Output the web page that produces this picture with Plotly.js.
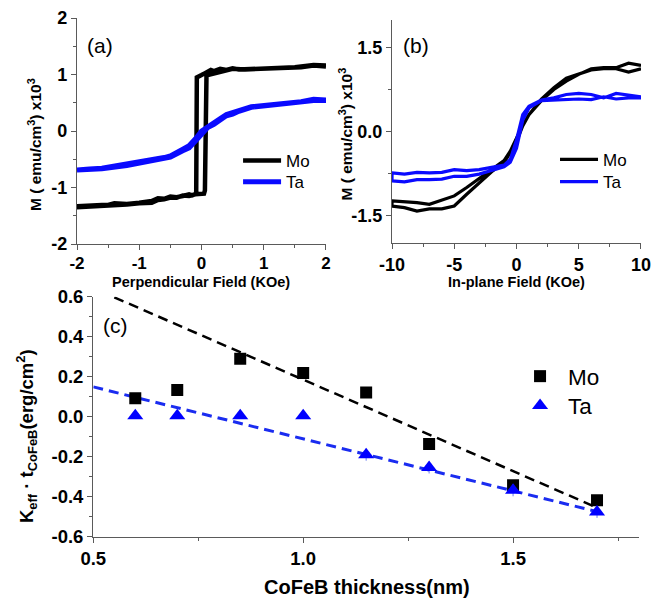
<!DOCTYPE html>
<html>
<head>
<meta charset="utf-8">
<script src="https://cdn.plot.ly/plotly-3.0.1.min.js"></script>
<style>html,body{margin:0;padding:0;background:#fff;}#chart{width:665px;height:601px;}</style>
</head>
<body>
<div id="chart"></div>
<script>
// ---------- Panel (a): perpendicular field loops ----------
const moPerpH = [2.0,1.8,1.6,1.4,1.2,1.0,0.8,0.6,0.5,0.4,0.3,0.2,0.15,0.1,0.05,0.0,-0.04,-0.075,-0.085,-0.1,-0.15,-0.2,-0.3,-0.4,-0.5,-0.6,-0.7,-0.8,-1.0,-1.2,-1.4,-1.5,-1.6,-1.8,-2.0,
  -2.0,-1.8,-1.6,-1.4,-1.2,-1.0,-0.8,-0.7,-0.6,-0.5,-0.4,-0.3,-0.2,-0.1,0.0,0.04,0.055,0.065,0.08,0.1,0.2,0.3,0.4,0.5,0.7,0.9,1.2,1.5,1.8,2.0];
const moPerpM = [1.14,1.16,1.13,1.12,1.12,1.11,1.10,1.09,1.11,1.08,1.10,1.06,1.08,1.04,1.02,0.99,0.97,0.95,-1.08,-1.12,-1.14,-1.12,-1.15,-1.17,-1.16,-1.20,-1.19,-1.24,-1.27,-1.29,-1.28,-1.31,-1.31,-1.32,-1.33,
  -1.35,-1.34,-1.32,-1.31,-1.30,-1.28,-1.27,-1.22,-1.21,-1.18,-1.18,-1.14,-1.15,-1.12,-1.10,-1.11,-1.05,0.92,0.97,0.99,1.02,1.06,1.08,1.10,1.09,1.10,1.12,1.13,1.17,1.16];
const taPerpH = [2.0,1.8,1.6,1.4,1.2,1.0,0.8,0.6,0.5,0.4,0.3,0.2,0.1,0.0,-0.1,-0.2,-0.3,-0.4,-0.5,-0.6,-0.8,-1.0,-1.2,-1.4,-1.6,-1.8,-2.0,
  -2.0,-1.6,-1.2,-0.8,-0.5,-0.3,-0.2,-0.1,0.0,0.1,0.2,0.3,0.4,0.5,0.6,0.8,1.0,1.4,1.8,2.0];
const taPerpM = [0.55,0.56,0.52,0.50,0.48,0.46,0.43,0.36,0.32,0.29,0.22,0.15,0.08,0.0,-0.14,-0.26,-0.32,-0.38,-0.44,-0.47,-0.51,-0.56,-0.60,-0.63,-0.66,-0.67,-0.68,
  -0.69,-0.67,-0.61,-0.53,-0.46,-0.35,-0.30,-0.18,-0.06,0.06,0.12,0.20,0.27,0.30,0.35,0.42,0.45,0.49,0.54,0.54];

// ---------- Panel (b): in-plane field loops ----------
const moInH = [10,9,8,7,6,5,4,3,2,1,0.5,0,-0.5,-1,-2,-3,-4,-5,-6,-7,-8,-9,-10,
  -10,-9,-8,-7,-6,-5,-4,-3,-2,-1,-0.5,0,0.5,1,2,3,4,5,6,7,8,9,10];
const moInM = [1.12,1.06,1.12,1.12,1.10,1.03,0.95,0.78,0.58,0.30,0.12,-0.12,-0.35,-0.52,-0.68,-0.85,-1.00,-1.15,-1.22,-1.30,-1.27,-1.26,-1.24,
  -1.33,-1.36,-1.42,-1.38,-1.38,-1.33,-1.12,-0.92,-0.72,-0.55,-0.38,-0.18,0.10,0.30,0.55,0.75,0.90,1.02,1.12,1.14,1.14,1.22,1.18];
const taInH = [10,9,8,7,6,5,4,3,2,1,0.5,0,-0.5,-1,-2,-3,-4,-5,-6,-7,-8,-9,-10,
  -10,-9,-8,-7,-6,-5,-4,-3,-2,-1,-0.5,0,0.5,1,2,3,4,5,6,7,8,9,10];
const taInM = [0.62,0.65,0.68,0.60,0.66,0.68,0.66,0.60,0.56,0.45,0.30,-0.15,-0.50,-0.60,-0.64,-0.68,-0.70,-0.68,-0.73,-0.74,-0.73,-0.76,-0.74,
  -0.88,-0.90,-0.86,-0.86,-0.85,-0.80,-0.80,-0.76,-0.70,-0.63,-0.55,-0.30,0.20,0.42,0.55,0.56,0.58,0.58,0.57,0.62,0.58,0.60,0.60];

// ---------- Panel (c): Keff*t vs thickness ----------
const thickness = [0.6,0.7,0.85,1.0,1.15,1.3,1.5,1.7];
const moKt = [0.092,0.133,0.290,0.219,0.121,-0.136,-0.343,-0.418];
const taKt = [0.005,0.005,0.005,0.005,-0.190,-0.254,-0.368,-0.476];
const taErr = [0,0,0,0,0.03,0.03,0.03,0.03];
const moFitX = [0.55,1.70];
const moFitY = [0.597,-0.455];
const taFitX = [0.5,1.71];
const taFitY = [0.149,-0.480];

// ---------- tick labels ----------
const aTicks = [-2,-1,0,1,2];
const aTickText = ["-2","-1","0","1","2"];
const aMinor = [-1.5,-0.5,0.5,1.5];
const bXTicks = [-10,-5,0,5,10];
const bXTickText = ["-10","-5","0","5","10"];
const bXMinor = [-7.5,-2.5,2.5,7.5];
const bYTicks = [-1.5,0,1.5];
const bYTickText = ["-1.5","0.0","1.5"];
const bYMinor = [-0.75,0.75];
const cXTicks = [0.5,1.0,1.5];
const cXTickText = ["0.5","1.0","1.5"];
const cXMinor = [0.75,1.25,1.75];
const cYTicks = [-0.6,-0.4,-0.2,0,0.2,0.4,0.6];
const cYTickText = ["-0.6","-0.4","-0.2","0.0","0.2","0.4","0.6"];
const cYMinor = [-0.5,-0.3,-0.1,0.1,0.3,0.5];

const FONT = "Liberation Sans, Arial, sans-serif";
const AX = "#5a5a5a";

function mainAxis(domain, anchor, range, tv, tt, mv, size) {
  return {domain, anchor, range, tickmode:'array', tickvals:tv, ticktext:tt,
    ticks:'outside', ticklen:5, tickwidth:1, tickcolor:AX,
    minor:{tickmode:'array', tickvals:mv, ticks:'outside', ticklen:3, tickcolor:AX},
    showline:true, linecolor:AX, linewidth:1.2, showgrid:false, zeroline:false,
    tickfont:{family:FONT, size:size, color:'#000', weight:'bold'}, automargin:false};
}
function mirrorAxis(overlay, anchor, side, range, tv, mv) {
  return {overlaying:overlay, anchor, side, range, tickmode:'array', tickvals:tv,
    ticks:'inside', ticklen:4, tickwidth:1, tickcolor:AX, showticklabels:false,
    minor:{tickmode:'array', tickvals:mv, ticks:'inside', ticklen:3, tickcolor:AX},
    showline:true, linecolor:AX, linewidth:1.2, showgrid:false, zeroline:false};
}
function legendAt(x, y, size, iw) {
  return {x, y, xanchor:'left', yanchor:'middle', bgcolor:'rgba(0,0,0,0)',
    font:{family:FONT, size}, itemwidth:iw, tracegroupgap:0};
}
function label(text, x, y, size, angle, bold) {
  return {xref:'paper', yref:'paper', x, y, xanchor:'center', yanchor:'middle', showarrow:false,
    text, textangle:angle, font:{family:FONT, size, weight:bold ? 'bold' : 'normal'}};
}

const traces = [
  {x:moPerpH, y:moPerpM, xaxis:'x', yaxis:'y', mode:'lines', name:'Mo', legend:'legend',
   line:{color:'#000', width:4.5}},
  {x:taPerpH, y:taPerpM, xaxis:'x', yaxis:'y', mode:'lines', name:'Ta', legend:'legend2',
   line:{color:'#0a0aff', width:5}},
  {x:moInH, y:moInM, xaxis:'x2', yaxis:'y2', mode:'lines', name:'Mo', legend:'legend3',
   line:{color:'#000', width:3.2}},
  {x:taInH, y:taInM, xaxis:'x2', yaxis:'y2', mode:'lines', name:'Ta', legend:'legend4',
   line:{color:'#0a0aff', width:3.2}},
  {x:moFitX, y:moFitY, xaxis:'x3', yaxis:'y3', mode:'lines', showlegend:false,
   line:{color:'#000', width:2.5, dash:'10px,6px'}},
  {x:taFitX, y:taFitY, xaxis:'x3', yaxis:'y3', mode:'lines', showlegend:false,
   line:{color:'#1a2cf0', width:3, dash:'10px,6px'}},
  {x:thickness, y:moKt, xaxis:'x3', yaxis:'y3', mode:'markers', name:'Mo', legend:'legend5',
   marker:{symbol:'square', size:12, color:'#000'}},
  {x:thickness, y:taKt, xaxis:'x3', yaxis:'y3', mode:'markers', name:'Ta', legend:'legend6',
   marker:{symbol:'triangle-up', size:14, color:'#0000ff'},
   error_y:{type:'data', array:taErr, symmetric:false, arrayminus:taErr, color:'#6a7cf0', thickness:1, width:0}}
];

const layout = {
  width:665, height:601, margin:{l:0,r:0,t:0,b:0}, paper_bgcolor:'#fff', plot_bgcolor:'#fff',
  font:{family:FONT, color:'#000'},
  xaxis: Object.assign(mainAxis([0.1158,0.4902],'y',[-2,2],aTicks,aTickText,aMinor,17), {ticklabelstandoff:-2}),
  yaxis: mainAxis([0.594,0.970],'x',[-2,2],aTicks,aTickText,aMinor,18),
  xaxis2: mainAxis([0.5895,0.9639],'y2',[-10,10],bXTicks,bXTickText,bXMinor,18),
  yaxis2: mainAxis([0.5957,0.9667],'x2',[-1.99,1.99],bYTicks,bYTickText,bYMinor,18),
  xaxis3: mainAxis([0.1403,0.9609],'y3',[0.5,1.8],cXTicks,cXTickText,cXMinor,18.5),
  yaxis3: mainAxis([0.107,0.5063],'x3',[-0.6,0.6],cYTicks,cYTickText,cYMinor,18.5),
  xaxis4: mirrorAxis('x','y','top',[-2,2],aTicks,aMinor),
  yaxis4: mirrorAxis('y','x','right',[-2,2],aTicks,aMinor),
  xaxis5: mirrorAxis('x2','y2','top',[-10,10],bXTicks,bXMinor),
  yaxis5: mirrorAxis('y2','x2','right',[-1.99,1.99],bYTicks,bYMinor),
  xaxis6: mirrorAxis('x3','y3','top',[0.5,1.8],cXTicks,cXMinor),
  yaxis6: mirrorAxis('y3','x3','right',[-0.6,0.6],cYTicks,cYMinor),
  legend:  legendAt(0.358, 0.732, 17, 38),
  legend2: legendAt(0.358, 0.697, 17, 38),
  legend3: legendAt(0.8346, 0.734, 17, 38),
  legend4: legendAt(0.8346, 0.697, 17, 38),
  legend5: legendAt(0.770, 0.3735, 22.5, 46),
  legend6: legendAt(0.770, 0.3245, 22.5, 46),
  annotations:[
    label('Perpendicular Field (KOe)', 0.303, 0.5308, 14.5, 0, true),
    label('In-plane Field (KOe)', 0.7767, 0.5308, 14.5, 0, true),
    label('M ( emu/cm<sup>3</sup>) x10<sup>3</sup>', 0.0526, 0.7604, 15.5, -90, true),
    label('M ( emu/cm<sup>3</sup>) x10<sup>3</sup>', 0.5203, 0.7779, 15.5, -90, true),
    label('CoFeB thickness(nm)', 0.552, 0.0233, 20, 0, true),
    label('K<sub>eff</sub> · t<sub>CoFeB</sub>(erg/cm<sup>2</sup>)', 0.0391, 0.2745, 18.5, -90, true),
    {xref:'paper', yref:'paper', x:0.128, y:0.925, xanchor:'left', yanchor:'middle', showarrow:false,
     text:'(a)', font:{family:FONT,size:21}},
    {xref:'paper', yref:'paper', x:0.603, y:0.925, xanchor:'left', yanchor:'middle', showarrow:false,
     text:'(b)', font:{family:FONT,size:21}},
    {xref:'paper', yref:'paper', x:0.152, y:0.459, xanchor:'left', yanchor:'middle', showarrow:false,
     text:'(c)', font:{family:FONT,size:21}}
  ]
};

Plotly.newPlot('chart', traces, layout, {displayModeBar:false, staticPlot:true});
</script>
</body>
</html>
